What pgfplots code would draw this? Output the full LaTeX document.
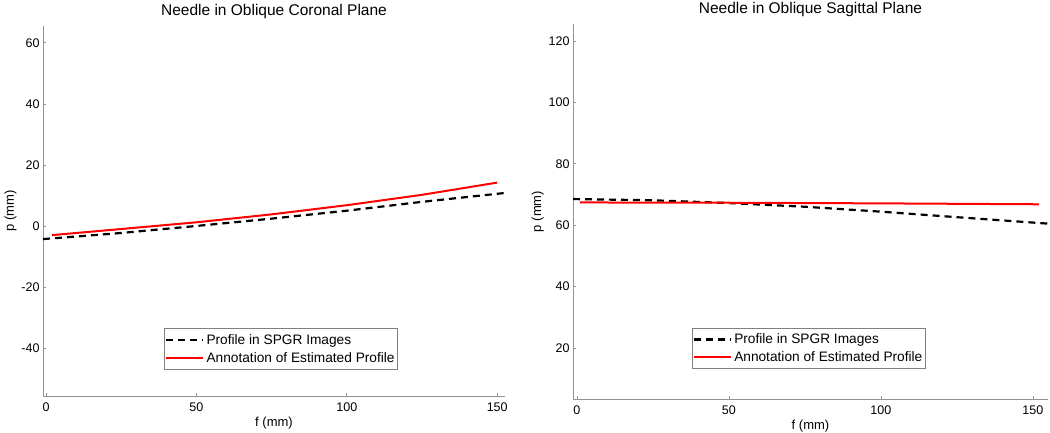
\documentclass[border=0pt]{standalone}
\usepackage{fontspec}
\setmainfont{Liberation Sans}
\usepackage{pgfplots}
\pgfplotsset{compat=1.18}

\pgfplotsset{needle/.style={
  scale only axis,
  axis x line*=bottom, axis y line*=left,
  axis line style={-, gray!85, line width=0.8pt},
  tick style={gray!85, line width=0.6pt}, major tick length=3pt, tick align=inside,
  ticklabel style={font=\fontsize{12.5}{14}\selectfont},
  xticklabel style={yshift=-3pt},
  /pgf/number format/assume math mode=true,
  xtick={0,50,100,150},
  xlabel={f (mm)}, ylabel={p (mm)},
  xlabel style={yshift=1pt},
  ylabel style={yshift=-2pt},
  label style={font=\fontsize{13}{15}\selectfont},
  title style={font=\fontsize{15.5}{17}\selectfont, yshift=-2pt},
  legend style={draw=gray, line width=0.6pt, font=\fontsize{13.7}{15}\selectfont,
    anchor=south west, inner xsep=1pt, inner ysep=3.5pt, row sep=2.5pt},
  legend cell align=left,
  legend image code/.code={\draw[#1] (0pt,0pt) -- (37pt,0pt);},
}}

\begin{document}
\begin{tikzpicture}
\useasboundingbox (0,0) rectangle (1050pt,432pt);

% coronal plane
\begin{axis}[needle,
  at={(43pt,36pt)}, anchor=south west,
  width=462pt, height=370pt,
  xmin=-1, xmax=152.6, ymin=-55.7, ymax=65.5,
  ytick={-40,-20,0,20,40,60},
  title={Needle in Oblique Coronal Plane},
  legend style={at={(rel axis cs:0.262,0.072)}},
]
\addplot[black, line width=2.2pt, dash pattern=on 7pt off 5pt] coordinates {
  (-1,-4.3) (25,-2.3) (50,0) (75,2.4) (100,5) (125,7.9) (152.5,10.8)
};
\addlegendentry{Profile in SPGR Images}
\addplot[red, line width=2pt] coordinates {
  (2,-3) (25,-1) (50,1.2) (75,3.8) (100,6.8) (125,10.2) (150,14.2)
};
\addlegendentry{Annotation of Estimated Profile\hspace{7pt}}
\end{axis}

% sagittal plane
\begin{axis}[needle,
  at={(573pt,33pt)}, anchor=south west,
  width=475pt, height=375pt,
  xmin=-1.3, xmax=155, ymin=3.4, ymax=125.5,
  ytick={20,40,60,80,100,120},
  title={Needle in Oblique Sagittal Plane},
  legend style={at={(rel axis cs:0.25,0.08)}},
]
\addplot[black, line width=2.2pt, dash pattern=on 7pt off 5pt] coordinates {
  (-1.3,68.5) (25,68.1) (50,67.2) (75,66) (100,64.4) (125,62.6) (155,60.5)
};
\addlegendentry{Profile in SPGR Images}
\addplot[red, line width=2pt] coordinates {
  (1,67.4) (50,67.3) (100,67.1) (152,66.8)
};
\addlegendentry{Annotation of Estimated Profile\hspace{7pt}}
\end{axis}
\end{tikzpicture}
\end{document}
